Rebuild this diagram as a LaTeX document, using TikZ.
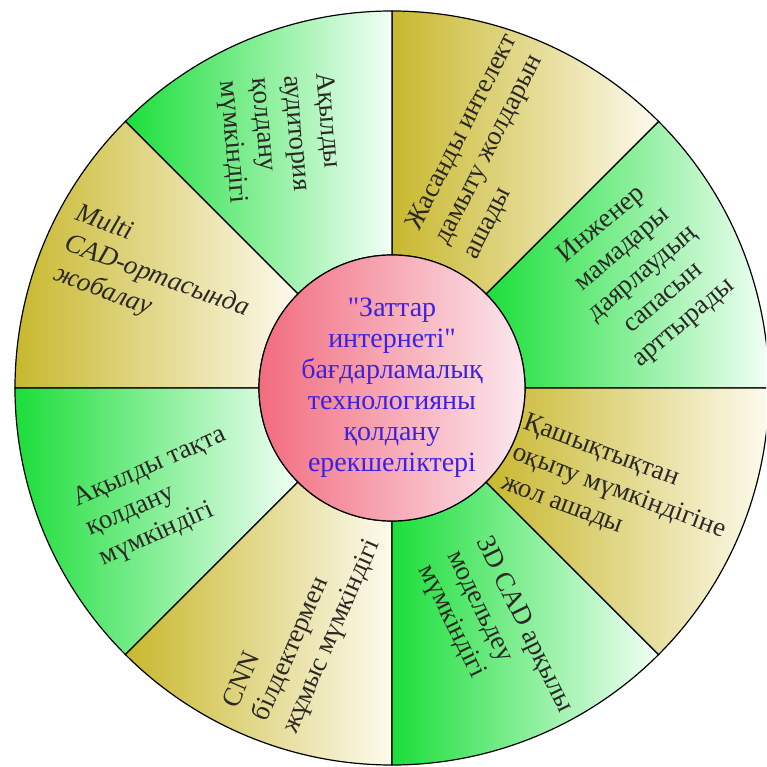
\documentclass[tikz,border=0pt]{standalone}
\usepackage{fontspec}
\setmainfont{Liberation Serif}

\definecolor{greendark}{RGB}{28,222,58}
\definecolor{greenlight}{RGB}{242,255,246}
\definecolor{tandark}{RGB}{200,184,46}
\definecolor{tanlight}{RGB}{253,250,238}
\definecolor{pinkdark}{RGB}{242,108,126}
\definecolor{pinklight}{RGB}{252,232,238}
\definecolor{titleblue}{RGB}{60,34,224}

\tikzset{
  greensector/.style={left color=greendark, right color=greenlight, draw=black, line width=1.2pt},
  tansector/.style={left color=tandark, right color=tanlight, draw=black, line width=1.2pt},
  sectortext/.style={font=\fontsize{27}{32}\selectfont, text=black!92!olive, inner sep=0pt},
}

\begin{document}
\begin{tikzpicture}[x=1pt,y=1pt]
        \def\outerR{377}
        \def\innerR{133}
        \useasboundingbox (-392,-379) rectangle (374,388);
        \clip (-392,-379) rectangle (374,388);

        % Eight sectors of the ring, green and tan in turn
        \foreach \a/\b/\kind in {0/45/greensector, 45/90/tansector, 90/135/greensector, 135/180/tansector,
                                 180/225/greensector, 225/270/tansector, 270/315/greensector, 315/360/tansector}
          \path[\kind] (\a:\innerR) -- (\a:\outerR) arc[start angle=\a, end angle=\b, radius=\outerR]
                -- (\b:\innerR) arc[start angle=\b, end angle=\a, radius=\innerR] -- cycle;

        % Centre disc with the title
        \node[circle, draw=black, line width=1.2pt, minimum size=266, inner sep=0pt,
              left color=pinkdark, right color=pinklight, text=titleblue, align=center,
              font=\fontsize{28}{31}\selectfont] (core) at (0,0)
              {\textquotedbl Заттар\\интернеті\textquotedbl\\бағдарламалық\\технологияны\\қолдану\\ерекшеліктері};

        % Labels of the sectors
        \node[sectortext, rotate=-85, align=left] (auditorium) at (-112,250) {Ақылды\\аудитория\\қолдану\\мүмкіндігі};
        \node[sectortext, rotate=63, align=left] (intellect) at (99,241) {Жасанды интелект\\дамыту жолдарын\\ашады};
        \node[sectortext, rotate=40, align=center] (engineer) at (251,114) {Инженер\\мамадары\\даярлаудың\\сапасын\\арттырады};
        \node[sectortext, rotate=-20.5, align=left] (distance) at (227,-104) {Қашықтықтан\\оқыту мүмкіндігіне\\жол ашады};
        \node[sectortext, rotate=-64, align=left] (modelling) at (103,-251) {3D CAD арқылы\\модельдеу\\мүмкіндігі};
        \node[sectortext, rotate=66.5, align=left] (machines) at (-89,-236) {CNN\\білдектермен\\жұмыс мүмкіндігі};
        \node[sectortext, rotate=24, align=left] (board) at (-229,-109) {Ақылды тақта\\қолдану\\мүмкіндігі};
        \node[sectortext, rotate=-20, align=left, font=\fontsize{27}{32}\selectfont\itshape] (multicad) at (-235,111) {Multi\\CAD-ортасында\\жобалау};
    \end{tikzpicture}
\end{document}
